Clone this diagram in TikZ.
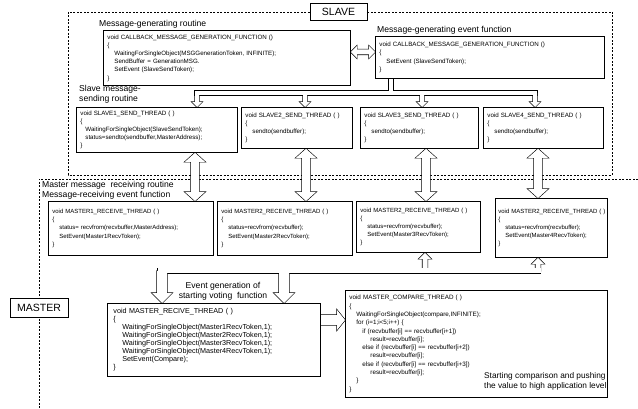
\documentclass[tikz,border=0pt]{standalone}
\usepackage{fontspec}
\setmainfont{Liberation Sans}
\usetikzlibrary{calc}
\pgfdeclarelayer{bg}
\pgfdeclarelayer{dash}
\pgfdeclarelayer{pout}
\pgfdeclarelayer{pin}
\pgfsetlayers{bg,dash,pout,pin,main}
\newcommand\codefont{\fontsize{6.2}{8.2}\selectfont}
\newcommand\rfont{\fontsize{6}{8.2}\selectfont}
\newcommand\labfont{\fontsize{8.6}{10}\selectfont}
\newcommand\ind{\hspace*{7pt}}
% single block arrow: name, from, to, half shaft, half head, head length
\newcommand\blkarrow[6]{%
 \coordinate (#1@h) at ($(#3)!#6!(#2)$);
 \coordinate (#1@a) at ($(#2)!#4!90:(#3)$);
 \coordinate (#1@b) at ($(#1@h)!#4!90:(#3)$);
 \coordinate (#1@c) at ($(#1@h)!#5!90:(#3)$);
 \coordinate (#1@d) at ($(#1@h)!#5!-90:(#3)$);
 \coordinate (#1@e) at ($(#1@h)!#4!-90:(#3)$);
 \coordinate (#1@f) at ($(#2)!#4!-90:(#3)$);
 \begin{pgfonlayer}{pout}\filldraw[arrout] (#1@a)--(#1@b)--(#1@c)--(#3)--(#1@d)--(#1@e)--(#1@f)--cycle;\end{pgfonlayer}
 \begin{pgfonlayer}{pin}\fill[white] (#1@a)--(#1@b)--(#1@c)--(#3)--(#1@d)--(#1@e)--(#1@f)--cycle;\end{pgfonlayer}}
% double block arrow
\newcommand\blkdarrow[6]{%
 \coordinate (#1@h) at ($(#2)!#6!(#3)$);
 \coordinate (#1@k) at ($(#3)!#6!(#2)$);
 \coordinate (#1@a) at ($(#1@h)!#5!90:(#3)$);
 \coordinate (#1@b) at ($(#1@h)!#4!90:(#3)$);
 \coordinate (#1@c) at ($(#1@k)!#4!90:(#3)$);
 \coordinate (#1@d) at ($(#1@k)!#5!90:(#3)$);
 \coordinate (#1@e) at ($(#1@k)!#5!-90:(#3)$);
 \coordinate (#1@f) at ($(#1@k)!#4!-90:(#3)$);
 \coordinate (#1@g) at ($(#1@h)!#4!-90:(#3)$);
 \coordinate (#1@i) at ($(#1@h)!#5!-90:(#3)$);
 \begin{pgfonlayer}{pout}\filldraw[arrout] (#2)--(#1@a)--(#1@b)--(#1@c)--(#1@d)--(#3)--(#1@e)--(#1@f)--(#1@g)--(#1@i)--cycle;\end{pgfonlayer}
 \begin{pgfonlayer}{pin}\fill[white] (#2)--(#1@a)--(#1@b)--(#1@c)--(#1@d)--(#3)--(#1@e)--(#1@f)--(#1@g)--(#1@i)--cycle;\end{pgfonlayer}}
% hollow pipe: outer width, inner width, path
\newcommand\pipe[3]{%
 \begin{pgfonlayer}{pout}\draw[line width=#1, line cap=rect, line join=miter] #3;\end{pgfonlayer}
 \begin{pgfonlayer}{pin}\draw[white, line width=#2, line cap=rect, line join=miter] #3;\end{pgfonlayer}}
\begin{document}
\begin{tikzpicture}[x=1pt,y=-1pt,
 box/.style={draw, line width=0.8pt, fill=white, inner xsep=4pt, inner ysep=2pt, align=left, font=\codefont, anchor=north west},
 tag/.style={draw, line width=0.8pt, fill=white, font=\fontsize{10.5}{12}\selectfont, inner sep=0pt},
 lab/.style={font=\labfont, inner sep=0pt, align=left},
 dashline/.style={dash pattern=on 2pt off 1.5pt, line width=0.5pt},
 arrout/.style={draw=black, fill=black, line width=1.2pt, line join=miter}]
\useasboundingbox (0,0) rectangle (638,409);
\begin{pgfonlayer}{bg}\fill[white] (0,0) rectangle (638,409);\end{pgfonlayer}
% regions
\begin{pgfonlayer}{dash}
\draw[dashline] (68,12) rectangle (612,175);
\draw[dashline] (638,179) -- (39,179) -- (39,409);
\end{pgfonlayer}
\node[tag, minimum width=57pt, minimum height=17pt] (slave) at (338.5,11.5) {SLAVE};
\node[tag, minimum width=58pt, minimum height=19pt] (master) at (39,307.5) {MASTER};
% labels
\node[lab, anchor=west] (lab1) at (99,24) {Message-generating routine};
\node[lab, anchor=west] (lab2) at (377,30) {Message-generating event function};
\node[lab, anchor=north west] (lab3) at (79,85) {Slave message-\\sending routine};
\node[lab, anchor=north west] (lab4) at (42,181) {Master message\ \ receiving routine\\Message-receiving event function};
\node[lab, align=center] (lab5) at (223,291) {Event generation of\\starting voting\ \ function};
% slave boxes
\node[box, text width=239pt, minimum height=55pt] (A) at (103,30) {void CALLBACK\_MESSAGE\_GENERATION\_FUNCTION ()\\ \{\\ \ind WaitingForSingleObject(MSGGenerationToken, INFINITE);\\ \ind SendBuffer = GenerationMSG.\\ \ind SetEvent (SlaveSendToken);\\ \}};
\node[box, text width=221pt, minimum height=42pt] (B) at (375,36) {void CALLBACK\_MESSAGE\_GENERATION\_FUNCTION ()\\ \{\\ \ind SetEvent (SlaveSendToken);\\ \}};
\node[box, text width=153pt, minimum height=45pt] (S1) at (76,107) {\mbox{void SLAVE1\_SEND\_THREAD ( )}\\ \{\\ \hspace*{5pt}WaitingForSingleObject(SlaveSendToken);\\ \hspace*{5pt}status=sendto(sendbuffer,MasterAddress);\\ \}};
\node[box, text width=103pt, minimum height=41pt] (S2) at (241,107) {\mbox{void SLAVE2\_SEND\_THREAD ( )}\\ \{\\ \ind sendto(sendbuffer);\\ \}};
\node[box, text width=110pt, minimum height=41pt] (S3) at (360,107) {\mbox{void SLAVE3\_SEND\_THREAD ( )}\\ \{\\ \ind sendto(sendbuffer);\\ \}};
\node[box, text width=112pt, minimum height=41pt] (S4) at (483,107) {\mbox{void SLAVE4\_SEND\_THREAD ( )}\\ \{\\ \ind sendto(sendbuffer);\\ \}};
% master boxes
\node[box, font=\rfont, text width=157pt, minimum height=54pt] (R1) at (48,201) {\mbox{void MASTER1\_RECEIVE\_THREAD ( )}\\ \{\\ \ind status= recvfrom(recvbuffer,MasterAddress);\\ \ind SetEvent(Master1RecvToken);\\ \}};
\node[box, font=\rfont, text width=127pt, minimum height=54pt] (R2) at (217,201) {\mbox{void MASTER2\_RECEIVE\_THREAD ( )}\\ \{\\ \ind status=recvfrom(recvbuffer);\\ \ind SetEvent(Master2RecvToken);\\ \}};
\node[box, font=\rfont, text width=116pt, minimum height=51pt] (R3) at (356,201) {\mbox{void MASTER2\_RECEIVE\_THREAD ( )}\\ \{\\ \ind status=recvfrom(recvbuffer);\\ \ind SetEvent(Master3RecvToken);\\ \}};
\node[box, font=\rfont, text width=106pt, inner xsep=3pt, minimum height=59pt] (R4) at (495,198) {\mbox{void MASTER2\_RECEIVE\_THREAD ( )}\\ \{\\ \ind status=recvfrom(recvbuffer);\\ \ind SetEvent(Master4RecvToken);\\ \}};
\node[box, text width=201pt, minimum height=73pt, inner xsep=6pt, font=\fontsize{7.2}{8}\selectfont] (BL) at (107,303) {void MASTER\_RECIVE\_THREAD ( )\\ \{\\ \hspace*{9pt}WaitingForSingleObject(Master1RecvToken,1);\\ \hspace*{9pt}WaitingForSingleObject(Master2RecvToken,1);\\ \hspace*{9pt}WaitingForSingleObject(Master3RecvToken,1);\\ \hspace*{9pt}WaitingForSingleObject(Master4RecvToken,1);\\ \hspace*{9pt}SetEvent(Compare);\\ \}};
\node[box, text width=254pt, minimum height=107pt, font=\fontsize{6.3}{8.3}\selectfont] (CMP) at (345,290) {void MASTER\_COMPARE\_THREAD ( )\\ \{\\ \ind WaitingForSingleObject(compare,INFINITE);\\ \ind for (i=1;i<5;i++) \{\\ \ind\hspace*{6pt}if (recvbuffer[i] == recvbuffer[i+1])\\ \ind\hspace*{14pt}result=recvbuffer[i];\\ \ind\hspace*{6pt}else if (recvbuffer[i] == recvbuffer[i+2])\\ \ind\hspace*{14pt}result=recvbuffer[i];\\ \ind\hspace*{6pt}else if (recvbuffer[i] == recvbuffer[i+3])\\ \ind\hspace*{14pt}result=recvbuffer[i];\\ \ind \}\\ \}};
\node[lab, anchor=north west, font=\fontsize{8.3}{10}\selectfont] (note) at (484,372) {Starting comparison and pushing\\the value to high application level};
% A <-> B
\coordinate (yab) at (0,52);
\coordinate (hA) at (A.east |- yab);
\coordinate (hB) at (B.west |- yab);
\blkdarrow{ab}{hA}{hB}{2.5pt}{6pt}{6pt}
% top bus
\coordinate (tj) at (391,93);
\coordinate (ta1) at (197,93);
\coordinate (ta2) at (305,93);
\coordinate (ta3) at (422,93);
\coordinate (ta4) at (535,93);
\coordinate (tb1) at (S1.north -| ta1);
\coordinate (tb2) at (S2.north -| ta2);
\coordinate (tb3) at (S3.north -| ta3);
\coordinate (tb4) at (S4.north -| ta4);
\coordinate (ts) at (B.south -| tj);
\pipe{5.2pt}{4pt}{(ts) -- (tj) (ta1) -- (ta4)}
\blkarrow{t1}{ta1}{tb1}{2pt}{5pt}{5pt}
\blkarrow{t2}{ta2}{tb2}{2pt}{5pt}{5pt}
\blkarrow{t3}{ta3}{tb3}{2pt}{5pt}{5pt}
\blkarrow{t4}{ta4}{tb4}{2pt}{5pt}{5pt}
% slave <-> master
\coordinate (vx1) at (195,0);
\coordinate (vx2) at (306,0);
\coordinate (vx3) at (426,0);
\coordinate (vx4) at (538,0);
\coordinate (vs1) at (S1.south -| vx1);
\coordinate (vr1) at (R1.north -| vx1);
\coordinate (vs2) at (S2.south -| vx2);
\coordinate (vr2) at (R2.north -| vx2);
\coordinate (vs3) at (S3.south -| vx3);
\coordinate (vr3) at (R3.north -| vx3);
\coordinate (vs4) at (S4.south -| vx4);
\coordinate (vr4) at (R4.north -| vx4);
\blkdarrow{v1}{vs1}{vr1}{4pt}{10pt}{9pt}
\blkdarrow{v2}{vs2}{vr2}{4pt}{10pt}{9pt}
\blkdarrow{v3}{vs3}{vr3}{4pt}{10pt}{9pt}
\blkdarrow{v4}{vs4}{vr4}{4pt}{10pt}{9pt}
% bottom bus
\coordinate (bl) at (160,271);
\coordinate (bj1) at (162,271);
\coordinate (bj2) at (284,271);
\coordinate (bu3) at (425,271);
\coordinate (bu4) at (538,271);
\coordinate (bd1) at (BL.north -| bj1);
\coordinate (bd2) at (BL.north -| bj2);
\coordinate (bt3) at (R3.south -| bu3);
\coordinate (bt4) at (R4.south -| bu4);
\pipe{6.2pt}{5pt}{(bl) -- (bu4)}
\blkarrow{u3}{bu3}{bt3}{2.5pt}{6pt}{6pt}
\blkarrow{u4}{bu4}{bt4}{2.5pt}{6pt}{6pt}
\blkarrow{d1}{bj1}{bd1}{5pt}{10pt}{10pt}
\blkarrow{d2}{bj2}{bd2}{5pt}{10pt}{10pt}
% BL -> CMP
\coordinate (yr) at (0,320);
\coordinate (rA) at (BL.east |- yr);
\coordinate (rB) at (CMP.west |- yr);
\blkarrow{r}{rA}{rB}{5pt}{10pt}{8pt}
\end{tikzpicture}
\end{document}
